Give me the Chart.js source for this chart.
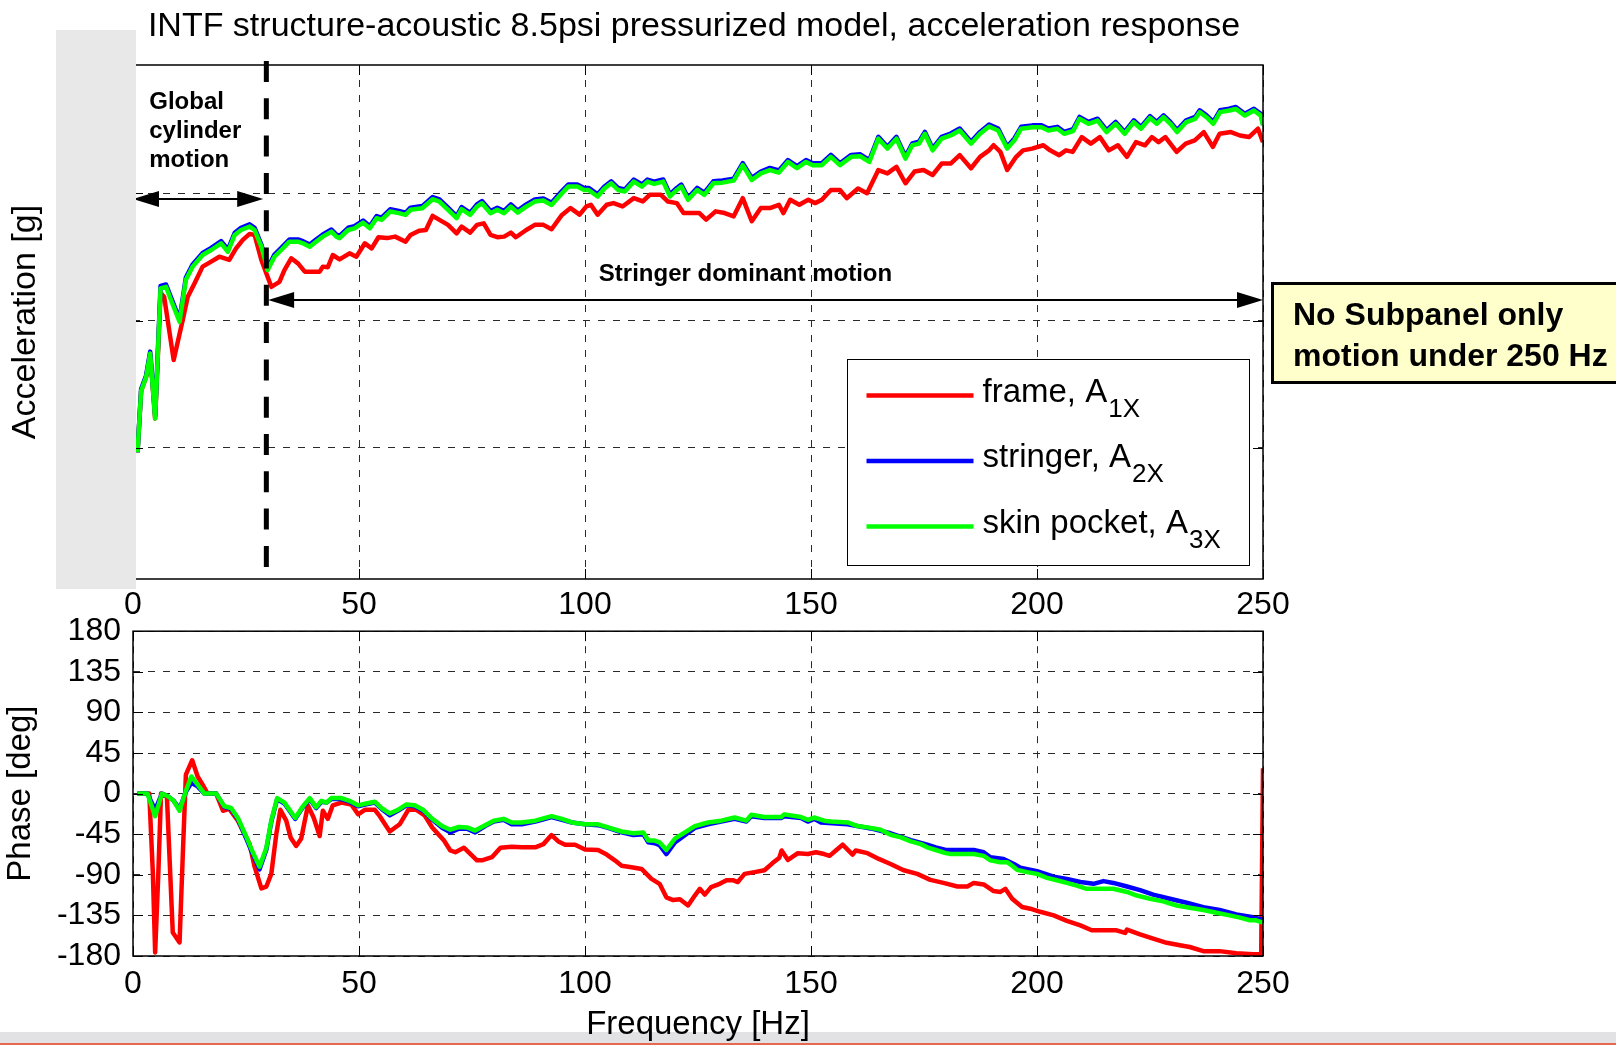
<!DOCTYPE html>
<html lang="en">
<head>
<meta charset="utf-8">
<title>INTF structure-acoustic 8.5psi pressurized model</title>
<script src="https://cdn.jsdelivr.net/npm/chart.js@4.4.1/dist/chart.umd.min.js"></script>
<style>
    html, body { margin: 0; padding: 0; background: #ffffff; }
    body { position: relative; width: 1616px; height: 1045px; overflow: hidden; }
    canvas { position: absolute; left: 0; }
    #acc-chart { top: 0; }
    #phase-chart { top: 600px; }
</style>
</head>
<body>
<canvas id="acc-chart" width="1616" height="625"></canvas>
<canvas id="phase-chart" width="1616" height="445"></canvas>
<script>
// --- Data ---

const freqTicks = [0, 50, 100, 150, 200, 250];
const accGridValues = [0.001, 0.01, 0.1];
const phaseTicks = [-180, -135, -90, -45, 0, 45, 90, 135, 180];

const seriesNames = ['frame, A', 'stringer, A', 'skin pocket, A'];
const seriesSubs = ['1X', '2X', '3X'];
const seriesColors = ['#ff0000', '#0000ff', '#00ff00'];

// acceleration, stringer + skin pocket share the same frequency points
const accFreq = [
    1.0, 1.8, 2.9, 3.8, 4.9, 6.1, 7.3, 8.4, 10.3, 11.7,
    13.2, 15.4, 17.3, 19.5, 21.0, 22.5, 23.9, 25.8, 26.9, 28.4,
    29.8, 31.3, 32.8, 34.6, 36.5, 37.6, 39.1, 40.5, 42.0, 43.9,
    45.0, 45.7, 47.6, 49.0, 50.9, 52.4, 53.9, 55.0, 56.9, 58.8,
    60.3, 61.4, 64.0, 66.3, 67.8, 69.7, 71.6, 72.7, 74.6, 76.1,
    77.2, 79.1, 80.6, 82.1, 83.6, 85.1, 87.0, 88.9, 90.8, 92.6,
    94.9, 96.3, 98.3, 99.8, 100.8, 102.8, 104.3, 105.8, 107.3, 108.8,
    110.8, 112.6, 113.8, 115.3, 117.3, 118.8, 120.3, 121.3, 122.8, 124.8,
    126.4, 128.4, 130.4, 132.9, 134.9, 136.9, 138.9, 140.9, 142.9, 144.9,
    146.9, 148.9, 150.4, 152.4, 154.4, 156.4, 158.9, 160.9, 162.9, 164.9,
    166.9, 168.9, 170.9, 172.4, 173.9, 175.2, 176.9, 178.9, 180.9, 182.9,
    185.4, 187.4, 189.4, 191.4, 193.4, 195.0, 196.5, 199.0, 201.0, 202.5,
    204.5, 206.0, 208.0, 209.4, 211.4, 213.4, 215.4, 217.4, 219.4, 221.4,
    223.0, 225.0, 226.5, 228.0, 229.5, 231.0, 233.0, 235.0, 236.0, 237.5,
    239.0, 240.5, 242.5, 244.0, 246.0, 248.0, 249.5, 250.0
];
const accSkin = [
    0.00092, 0.0028, 0.0036, 0.0055, 0.0017, 0.0179, 0.0184, 0.0145, 0.0098, 0.0209,
    0.0265, 0.0327, 0.0358, 0.0404, 0.0347, 0.047, 0.0514, 0.0547, 0.0514, 0.038,
    0.0249, 0.0317, 0.0358, 0.0416, 0.0416, 0.0404, 0.038, 0.0416, 0.0456, 0.0499,
    0.0456, 0.0444, 0.0514, 0.053, 0.0587, 0.053, 0.0636, 0.0617, 0.0718, 0.0697,
    0.0675, 0.074, 0.0762, 0.0897, 0.0859, 0.074, 0.0636, 0.0749, 0.0675, 0.0785,
    0.0834, 0.0697, 0.074, 0.0697, 0.0785, 0.0703, 0.0785, 0.0859, 0.0875, 0.0809,
    0.1, 0.1127, 0.1127, 0.106, 0.106, 0.0942, 0.109, 0.1197, 0.106, 0.103,
    0.1233, 0.1127, 0.1233, 0.1183, 0.1233, 0.0942, 0.106, 0.1127, 0.0887, 0.106,
    0.0971, 0.1197, 0.121, 0.1256, 0.166, 0.127, 0.143, 0.152, 0.145, 0.176,
    0.157, 0.176, 0.166, 0.166, 0.193, 0.166, 0.193, 0.195, 0.176, 0.268,
    0.224, 0.268, 0.187, 0.238, 0.245, 0.293, 0.217, 0.268, 0.284, 0.311,
    0.245, 0.293, 0.334, 0.311, 0.224, 0.26, 0.321, 0.33, 0.33, 0.311,
    0.321, 0.293, 0.308, 0.384, 0.351, 0.372, 0.302, 0.351, 0.293, 0.361,
    0.321, 0.39, 0.351, 0.395, 0.351, 0.302, 0.361, 0.384, 0.433, 0.395,
    0.351, 0.433, 0.446, 0.459, 0.407, 0.446, 0.407, 0.34
];
const accStringer = [
    0.00092, 0.0029, 0.0037, 0.0057, 0.0018, 0.0187, 0.0192, 0.0152, 0.0102, 0.0218,
    0.0276, 0.034, 0.0372, 0.042, 0.0361, 0.0489, 0.0534, 0.0569, 0.0535, 0.0395,
    0.0259, 0.033, 0.0372, 0.0433, 0.0433, 0.042, 0.0395, 0.0433, 0.0474, 0.0519,
    0.0474, 0.0462, 0.0535, 0.0551, 0.061, 0.0551, 0.0661, 0.0642, 0.0747, 0.0725,
    0.0702, 0.077, 0.0792, 0.0933, 0.0893, 0.077, 0.0661, 0.0779, 0.0702, 0.0816,
    0.0867, 0.0725, 0.077, 0.0725, 0.0816, 0.0731, 0.0816, 0.0893, 0.091, 0.0841,
    0.104, 0.117, 0.117, 0.11, 0.11, 0.098, 0.113, 0.124, 0.11, 0.107,
    0.128, 0.117, 0.128, 0.123, 0.128, 0.098, 0.11, 0.117, 0.0922, 0.11,
    0.101, 0.124, 0.126, 0.13, 0.172, 0.132, 0.148, 0.158, 0.151, 0.182,
    0.163, 0.182, 0.172, 0.172, 0.2, 0.172, 0.2, 0.202, 0.182, 0.277,
    0.232, 0.277, 0.194, 0.246, 0.254, 0.303, 0.225, 0.277, 0.294, 0.322,
    0.254, 0.303, 0.346, 0.322, 0.232, 0.269, 0.332, 0.341, 0.341, 0.322,
    0.332, 0.303, 0.319, 0.397, 0.363, 0.385, 0.313, 0.363, 0.303, 0.374,
    0.332, 0.403, 0.363, 0.409, 0.363, 0.313, 0.374, 0.397, 0.448, 0.409,
    0.363, 0.448, 0.461, 0.475, 0.421, 0.461, 0.421, 0.35
];

const accFreqFrame = [
    1.0, 1.8, 2.9, 3.8, 4.9, 6.1, 6.9, 9.0, 11.0, 12.1,
    13.6, 15.4, 17.3, 19.1, 21.3, 22.8, 24.3, 25.8, 26.9, 28.4,
    30.6, 32.4, 33.5, 35.0, 36.5, 38.0, 39.8, 41.3, 42.0, 43.1,
    44.2, 45.7, 47.9, 49.4, 51.3, 52.8, 54.3, 56.2, 58.0, 60.3,
    61.4, 63.3, 64.8, 66.3, 67.8, 69.7, 71.6, 72.7, 74.6, 76.1,
    77.6, 79.1, 80.6, 82.1, 83.6, 84.7, 87.0, 88.9, 90.8, 92.6,
    94.9, 96.8, 98.8, 100.3, 101.3, 102.8, 104.8, 106.3, 108.3, 110.8,
    112.8, 114.3, 116.8, 118.3, 120.3, 121.8, 123.8, 125.3, 126.8, 128.9,
    130.9, 132.9, 134.9, 136.9, 138.9, 140.9, 142.9, 143.9, 145.4, 147.4,
    149.4, 150.9, 152.4, 154.4, 156.4, 157.9, 160.4, 162.4, 164.9, 166.9,
    168.9, 170.9, 172.9, 174.9, 176.9, 178.9, 180.9, 182.9, 185.4, 187.4,
    189.4, 190.4, 191.9, 193.4, 195.4, 196.9, 198.9, 201.4, 202.9, 204.9,
    206.4, 207.9, 209.9, 211.9, 213.9, 215.9, 217.9, 219.9, 221.9, 223.9,
    225.4, 226.9, 228.4, 230.9, 232.9, 234.9, 236.9, 238.9, 240.4, 242.9,
    244.9, 246.9, 248.9, 250.0
];
const accFrame = [
    0.00092, 0.0028, 0.0036, 0.0055, 0.0017, 0.0165, 0.0153, 0.0049, 0.0101, 0.0153,
    0.0195, 0.0265, 0.029, 0.0317, 0.0299, 0.0369, 0.043, 0.0479, 0.047, 0.0299,
    0.0184, 0.0201, 0.0249, 0.0308, 0.0281, 0.0242, 0.0242, 0.0242, 0.0265, 0.0262,
    0.0327, 0.0302, 0.0337, 0.0317, 0.0404, 0.0369, 0.0451, 0.0444, 0.0456, 0.0416,
    0.047, 0.0508, 0.0514, 0.0664, 0.0617, 0.0564, 0.0484, 0.0547, 0.049, 0.0564,
    0.058, 0.047, 0.0451, 0.0456, 0.049, 0.0451, 0.0514, 0.0564, 0.0564, 0.0521,
    0.0675, 0.0764, 0.0678, 0.0787, 0.0811, 0.0678, 0.0811, 0.0836, 0.0787, 0.0914,
    0.0861, 0.0971, 0.0971, 0.0861, 0.0836, 0.0698, 0.0698, 0.0698, 0.062, 0.072,
    0.0698, 0.0658, 0.0914, 0.0602, 0.0764, 0.0764, 0.0811, 0.0698, 0.0887, 0.0811,
    0.0887, 0.0836, 0.0887, 0.106, 0.106, 0.0914, 0.109, 0.1, 0.152, 0.143,
    0.161, 0.1197, 0.148, 0.152, 0.139, 0.171, 0.171, 0.199, 0.157, 0.193,
    0.217, 0.238, 0.211, 0.152, 0.193, 0.217, 0.224, 0.238, 0.217, 0.199,
    0.217, 0.211, 0.276, 0.245, 0.276, 0.217, 0.238, 0.193, 0.252, 0.238,
    0.276, 0.252, 0.276, 0.211, 0.245, 0.26, 0.302, 0.231, 0.293, 0.302,
    0.284, 0.276, 0.321, 0.252
];

// phase [deg]
const phaseFreqSkin = [
    1.0, 3.2, 4.9, 6.4, 7.7, 9.0, 10.3, 11.7, 12.9, 14.3,
    15.8, 18.4, 20.2, 21.7, 23.2, 25.0, 26.5, 28.0, 29.5, 30.6,
    31.9, 33.5, 35.9, 37.6, 39.1, 40.5, 41.7, 42.8, 43.9, 46.1,
    47.9, 49.8, 51.6, 53.5, 55.0, 56.8, 58.6, 60.5, 62.3, 64.2,
    66.0, 68.4, 70.2, 72.1, 73.9, 75.7, 77.9, 79.8, 82.0, 83.8,
    86.0, 89.0, 92.6, 94.9, 97.1, 100.0, 102.9, 105.1, 108.1, 110.7,
    112.9, 114.0, 115.4, 116.5, 118.0, 119.9, 122.1, 124.3, 127.2, 130.1,
    133.1, 135.7, 136.8, 139.7, 143.4, 144.1, 147.8, 149.3, 150.7, 152.9,
    154.4, 158.1, 160.3, 163.2, 165.4, 167.6, 169.9, 172.1, 174.3, 175.7,
    177.6, 179.8, 180.9, 183.1, 186.0, 188.2, 189.7, 191.9, 193.4, 194.5,
    195.6, 197.8, 200.0, 202.2, 204.4, 206.6, 208.8, 211.0, 214.7, 216.9,
    219.9, 222.1, 225.0, 227.9, 230.9, 233.8, 236.8, 239.7, 242.6, 244.9,
    247.1, 248.5, 250.0
];
const phaseSkin = [
    0, 0, -25, 0, -3, -8, -19, 3, 19, 10,
    0, 0, -14, -16, -27, -47, -65, -81, -60, -30,
    -5, -10, -27, -14, -5, -15, -8, -10, -5, -5,
    -8, -13, -11, -9, -16, -22, -18, -12, -13, -18,
    -27, -36, -40, -37, -37.5, -41, -35, -30, -28, -32,
    -32, -30, -25, -28, -32, -34, -34, -37.5, -42, -44,
    -43, -52, -52, -54, -62.5, -50, -43, -36, -32, -30,
    -26.5, -30, -23.5, -26, -26, -23, -26, -29, -26.5, -30,
    -31, -32, -36, -38, -40, -45.6, -48.5, -53, -56, -59.6,
    -62.5, -66, -67, -67, -67, -69, -74, -76, -76, -80,
    -84.5, -87, -89, -93.4, -96, -99, -102, -105.5, -105.5, -105.5,
    -109, -113, -116.5, -119.5, -124, -126.5, -129, -132, -135, -137.5,
    -140.4, -140.4, -143
];

const phaseFreqStringer = [
    1.0, 3.2, 4.9, 6.4, 7.7, 9.0, 10.3, 11.7, 12.9, 14.3,
    15.8, 18.4, 20.2, 21.7, 23.2, 25.0, 26.5, 28.0, 29.5, 30.6,
    31.9, 33.5, 35.9, 37.6, 39.1, 40.5, 41.7, 42.8, 43.9, 46.1,
    47.9, 49.8, 51.6, 53.5, 55.0, 56.8, 58.6, 60.5, 62.3, 64.2,
    66.0, 68.4, 70.2, 72.1, 73.9, 75.7, 77.9, 79.8, 82.0, 83.8,
    86.0, 89.0, 92.6, 94.9, 97.1, 100.0, 102.9, 105.1, 108.1, 110.7,
    112.9, 114.0, 115.4, 116.5, 118.0, 119.9, 122.1, 124.3, 127.2, 130.1,
    133.1, 135.7, 136.8, 139.7, 143.4, 144.1, 147.8, 149.3, 150.7, 152.2,
    158.1, 163.2, 167.6, 172.1, 175.7, 177.6, 179.8, 183.1, 186.0, 188.2,
    189.7, 192.6, 194.9, 196.3, 200.0, 203.7, 206.6, 209.6, 212.5, 214.7,
    216.9, 219.9, 222.8, 225.7, 229.4, 233.1, 236.8, 240.4, 244.1, 247.8,
    250.0
];
const phaseStringer = [
    0, 0, -18, 0, -3, -8, -17, 2, 12, 8,
    0, 0, -15, -17, -28, -49, -67, -84, -62, -31,
    -6, -11, -28, -15, -6, -16, -9, -10, -6, -6,
    -9, -14, -12, -10, -17, -24, -19, -13, -14, -19,
    -28, -38, -43, -39, -39, -43, -36, -31, -29, -34,
    -34, -31, -26, -29, -32, -34, -35, -38, -43, -46,
    -45, -54, -55, -57, -67, -54, -46, -38, -34, -31,
    -28, -31, -25, -27, -27, -25, -27, -31, -28, -32,
    -34, -38.6, -44, -51.5, -56.6, -59.6, -62.5, -62.5, -62.5, -65,
    -70.6, -72.4, -78, -82, -86, -92, -94.5, -98, -100, -97,
    -99, -103, -107, -112, -116.5, -121, -126, -129, -134, -137,
    -140
];

const phaseFreqFrame = [
    1.0, 3.6, 4.4, 4.9, 5.6, 6.2, 7.5, 8.8, 10.3, 11.0,
    11.7, 13.1, 14.3, 15.4, 16.5, 18.4, 19.9, 21.3, 23.2, 25.8,
    26.9, 28.4, 29.5, 30.6, 31.7, 32.6, 33.9, 34.9, 36.1, 37.2,
    38.7, 40.0, 41.3, 42.0, 43.1, 44.2, 46.1, 48.3, 49.8, 51.3,
    53.5, 54.6, 56.8, 59.0, 60.9, 62.7, 64.5, 66.2, 68.8, 70.2,
    71.3, 73.2, 76.1, 77.2, 79.4, 81.3, 83.8, 86.0, 89.0, 90.8,
    92.6, 94.1, 95.6, 97.8, 100.0, 102.9, 104.8, 106.6, 108.1, 110.3,
    112.5, 114.7, 116.5, 118.0, 119.5, 121.0, 122.8, 124.3, 125.4, 126.5,
    127.9, 129.8, 131.3, 132.7, 133.8, 135.3, 137.5, 139.7, 141.5, 143.0,
    143.5, 144.9, 147.1, 149.3, 151.1, 152.9, 154.1, 155.5, 157.0, 159.2,
    159.9, 162.5, 165.0, 167.6, 170.5, 173.5, 176.4, 179.3, 182.4, 184.6,
    186.0, 188.2, 190.4, 191.9, 193.0, 194.5, 196.7, 198.5, 200.7, 203.7,
    206.6, 209.6, 212.1, 215.4, 217.6, 219.5, 219.9, 222.8, 225.7, 228.7,
    231.6, 233.8, 236.8, 240.4, 244.1, 247.8, 249.6, 250.0
];
const phaseFrame = [
    0, 0, -89, -176, -89, 0, -3, -154, -165, -70,
    21, 37, 19, 10, 0, 0, -19, -17, -30, -56,
    -81, -105, -103, -89, -45, -18, -30, -49, -58, -50,
    -13, -27, -47, -19, -28, -13, -10, -12, -23, -18,
    -18, -25, -42, -34, -18, -18, -24, -37.5, -52, -63,
    -65, -60, -74, -74, -70.5, -60, -59, -59.5, -59.5, -56,
    -46, -53, -56.6, -56.6, -62, -62.5, -67.6, -74, -80, -81.6,
    -83.5, -94.5, -100, -115, -118, -117, -124, -113, -105.5, -112,
    -103.7, -100, -96, -96, -98, -89, -87, -85, -77, -71,
    -63, -73.5, -66, -67, -65, -67, -69, -63, -56.6, -67.6,
    -63, -66, -72.4, -78, -85, -89, -95.6, -99, -103, -103,
    -99, -100.7, -108, -109, -105.5, -116.5, -125.7, -127.6, -131, -135,
    -141, -146, -151.5, -151.5, -151.5, -154.4, -150.7, -156, -160.7, -165.4,
    -168, -170, -174.6, -174.6, -177, -178, -178, 28
];

// annotation anchors (frequency in Hz)
const boundaryHz = 29.5;

document.addEventListener('DOMContentLoaded', () => {
    const FONT = "'Liberation Sans', Arial, Helvetica, sans-serif";
    const GRID_DASH = [7, 8];
    const GRID_COLOR = '#2a2a2a';
    const TICK_LEN = 10;

    Chart.defaults.font.family = FONT;
    Chart.defaults.color = '#000';

    const pts = (xs, ys) => xs.map((x, i) => ({ x: x, y: ys[i] }));

    // --- drawing helpers ---

    function drawFrame(chart, xTicks, yTicks) {
        const { ctx, chartArea: a, scales } = chart;
        ctx.save();
        ctx.strokeStyle = '#000';
        ctx.lineWidth = 1;
        ctx.beginPath();
        xTicks.forEach(v => {
            const px = Math.round(scales.x.getPixelForValue(v)) + 0.5;
            ctx.moveTo(px, a.bottom); ctx.lineTo(px, a.bottom - TICK_LEN);
            ctx.moveTo(px, a.top); ctx.lineTo(px, a.top + TICK_LEN);
        });
        yTicks.forEach(v => {
            const py = Math.round(scales.y.getPixelForValue(v)) + 0.5;
            ctx.moveTo(a.left, py); ctx.lineTo(a.left + TICK_LEN, py);
            ctx.moveTo(a.right, py); ctx.lineTo(a.right - TICK_LEN, py);
        });
        ctx.stroke();
        ctx.lineWidth = 1.5;
        ctx.strokeRect(a.left, a.top, a.right - a.left, a.bottom - a.top);
        ctx.restore();
    }

    function arrowHead(ctx, tipX, y, dir) {
        ctx.beginPath();
        ctx.moveTo(tipX, y);
        ctx.lineTo(tipX - dir * 26, y - 8);
        ctx.lineTo(tipX - dir * 26, y + 8);
        ctx.closePath();
        ctx.fill();
    }

    function doubleArrow(ctx, x1, x2, y) {
        ctx.strokeStyle = '#000';
        ctx.fillStyle = '#000';
        ctx.lineWidth = 2;
        ctx.beginPath();
        ctx.moveTo(x1 + 10, y);
        ctx.lineTo(x2 - 10, y);
        ctx.stroke();
        arrowHead(ctx, x1, y, -1);
        arrowHead(ctx, x2, y, 1);
    }

    function drawLegend(ctx, a) {
        const w = 402, h = 206;
        const left = a.right - 13.5 - w, top = a.bottom - 13.5 - h;
        ctx.fillStyle = '#fff';
        ctx.fillRect(left, top, w, h);
        ctx.strokeStyle = '#000';
        ctx.lineWidth = 1;
        ctx.strokeRect(left, top, w, h);
        ctx.textAlign = 'left';
        ctx.textBaseline = 'alphabetic';
        seriesNames.forEach((name, i) => {
            const rowY = top + 36 + i * 65.5;
            ctx.strokeStyle = seriesColors[i];
            ctx.lineWidth = 4.5;
            ctx.beginPath();
            ctx.moveTo(left + 19, rowY);
            ctx.lineTo(left + 126, rowY);
            ctx.stroke();
            ctx.fillStyle = '#000';
            ctx.font = '33px ' + FONT;
            ctx.fillText(name, left + 135, rowY + 6);
            const tw = ctx.measureText(name).width;
            ctx.font = '26px ' + FONT;
            ctx.fillText(seriesSubs[i], left + 136 + tw, rowY + 21);
        });
    }

    // --- plugins ---

    const accDecor = {
        id: 'accDecor',
        afterDatasetsDraw(chart) {
            const { ctx, chartArea: a, scales: { x, y } } = chart;
            drawFrame(chart, freqTicks, accGridValues);

            ctx.save();
            // boundary between global and stringer motion
            const xb = x.getPixelForValue(boundaryHz);
            ctx.strokeStyle = '#000';
            ctx.lineWidth = 5;
            ctx.setLineDash([21, 16.3]);
            ctx.beginPath();
            ctx.moveTo(xb, a.top - 4);
            ctx.lineTo(xb, a.bottom - 10);
            ctx.stroke();
            ctx.setLineDash([]);

            doubleArrow(ctx, x.getPixelForValue(0), x.getPixelForValue(28.8), y.getPixelForValue(0.09));
            doubleArrow(ctx, x.getPixelForValue(29.9), x.getPixelForValue(250), y.getPixelForValue(0.0145));

            ctx.fillStyle = '#000';
            ctx.font = 'bold 24px ' + FONT;
            ctx.textBaseline = 'middle';
            ctx.textAlign = 'left';
            const gx = x.getPixelForValue(3.6), gy = y.getPixelForValue(0.52);
            ['Global', 'cylinder', 'motion'].forEach((t, i) => ctx.fillText(t, gx, gy + i * 29));
            ctx.textAlign = 'center';
            ctx.fillText('Stringer dominant motion', x.getPixelForValue(135.5), y.getPixelForValue(0.023));

            drawLegend(ctx, a);
            ctx.restore();
        },
        afterDraw(chart) {
            const { ctx } = chart;
            ctx.save();
            // grey strip over the y tick labels
            ctx.fillStyle = '#e8e8e8';
            ctx.fillRect(56, 30, 80, 559);

            ctx.fillStyle = '#000';
            ctx.font = '34px ' + FONT;
            ctx.textAlign = 'center';
            ctx.textBaseline = 'alphabetic';
            ctx.fillText('INTF structure-acoustic 8.5psi pressurized model, acceleration response', 694, 36);

            // note box
            ctx.fillStyle = '#ffffcc';
            ctx.fillRect(1271, 282, 360, 102);
            ctx.strokeStyle = '#000';
            ctx.lineWidth = 3;
            ctx.strokeRect(1272.5, 283.5, 360, 99);
            ctx.fillStyle = '#000';
            ctx.font = 'bold 32px ' + FONT;
            ctx.textAlign = 'left';
            ctx.fillText('No Subpanel only', 1293, 325);
            ctx.fillText('motion under 250 Hz', 1293, 366);
            ctx.restore();
        }
    };

    const phaseDecor = {
        id: 'phaseDecor',
        beforeDraw(chart) {
            const { ctx, width } = chart;
            ctx.save();
            ctx.fillStyle = '#e2e2e4';
            ctx.fillRect(0, 432, width, 11);
            ctx.fillStyle = '#e8674f';
            ctx.fillRect(0, 443, width, 2);
            ctx.restore();
        },
        afterDatasetsDraw(chart) {
            drawFrame(chart, freqTicks, phaseTicks);
        }
    };

    // --- charts ---

    const lineStyle = { borderWidth: 4.5, pointRadius: 0, tension: 0, fill: false, borderJoinStyle: 'round' };

    const gridOpts = { color: GRID_COLOR, lineWidth: 1, drawTicks: false };
    const borderOpts = { display: false, dash: GRID_DASH };

    const freqAxis = (height, pad, title) => ({
        type: 'linear', min: 0, max: 250,
        afterBuildTicks: s => { s.ticks = freqTicks.map(v => ({ value: v })); },
        afterFit: s => { s.height = height; },
        ticks: { font: { size: 32 }, color: '#000', padding: pad, maxRotation: 0, autoSkip: false },
        grid: gridOpts,
        border: borderOpts,
        title: title
    });

    new Chart(document.getElementById('acc-chart'), {
        type: 'line',
        data: {
            datasets: [
                Object.assign({ label: 'frame, A1X', data: pts(accFreqFrame, accFrame), borderColor: seriesColors[0], order: 3 }, lineStyle),
                Object.assign({ label: 'stringer, A2X', data: pts(accFreq, accStringer), borderColor: seriesColors[1], order: 2 }, lineStyle),
                Object.assign({ label: 'skin pocket, A3X', data: pts(accFreq, accSkin), borderColor: seriesColors[2], order: 1 }, lineStyle)
            ]
        },
        options: {
            responsive: false,
            animation: false,
            devicePixelRatio: 1,
            events: [],
            layout: { padding: { left: 0, top: 65, right: 353, bottom: 0 } },
            plugins: { legend: { display: false }, tooltip: { enabled: false }, title: { display: false } },
            scales: {
                x: freqAxis(46, 7, { display: false }),
                y: {
                    type: 'logarithmic', min: 9.33e-5, max: 1.016,
                    afterBuildTicks: s => { s.ticks = accGridValues.map(v => ({ value: v })); },
                    afterFit: s => { s.width = 133; },
                    ticks: { display: false, autoSkip: false },
                    grid: gridOpts,
                    border: borderOpts,
                    title: { display: true, text: 'Acceleration [g]', font: { size: 34 }, color: '#000', padding: { top: 5, bottom: 0 } }
                }
            }
        },
        plugins: [accDecor]
    });

    new Chart(document.getElementById('phase-chart'), {
        type: 'line',
        data: {
            datasets: [
                Object.assign({ label: 'frame', data: pts(phaseFreqFrame, phaseFrame), borderColor: seriesColors[0], order: 3 }, lineStyle),
                Object.assign({ label: 'stringer', data: pts(phaseFreqStringer, phaseStringer), borderColor: seriesColors[1], order: 2 }, lineStyle),
                Object.assign({ label: 'skin pocket', data: pts(phaseFreqSkin, phaseSkin), borderColor: seriesColors[2], order: 1 }, lineStyle)
            ]
        },
        options: {
            responsive: false,
            animation: false,
            devicePixelRatio: 1,
            events: [],
            layout: { padding: { left: 0, top: 30, right: 353, bottom: 0 } },
            plugins: { legend: { display: false }, tooltip: { enabled: false }, title: { display: false } },
            scales: {
                x: freqAxis(89, 9, { display: true, text: 'Frequency [Hz]', font: { size: 33 }, color: '#000', padding: { top: 0, bottom: 0 } }),
                y: {
                    type: 'linear', min: -180, max: 180,
                    afterBuildTicks: s => { s.ticks = phaseTicks.map(v => ({ value: v })); },
                    afterFit: s => { s.width = 133; },
                    ticks: { font: { size: 32 }, color: '#000', padding: 12, autoSkip: false },
                    grid: gridOpts,
                    border: borderOpts,
                    title: { display: true, text: 'Phase [deg]', font: { size: 33 }, color: '#000', padding: { top: 1, bottom: 0 } }
                }
            }
        },
        plugins: [phaseDecor]
    });
});
</script>
</body>
</html>
